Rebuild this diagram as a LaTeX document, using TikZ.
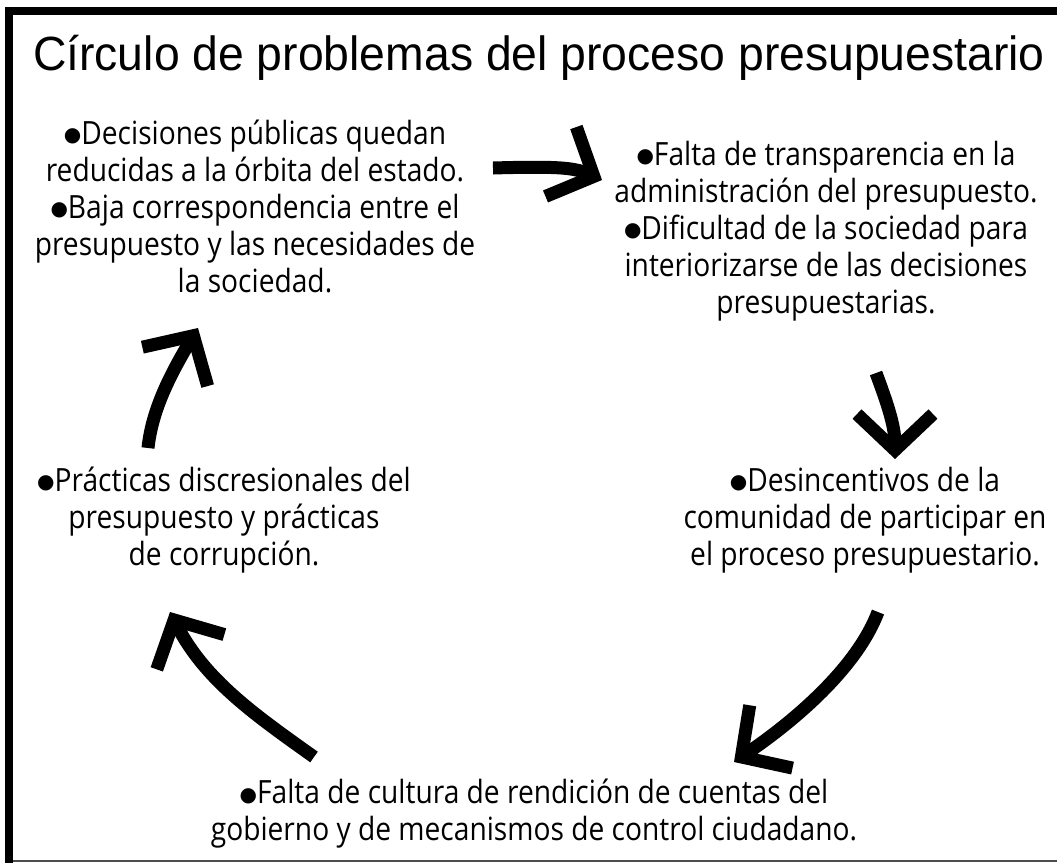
\documentclass[tikz,border=0pt]{standalone}
\usepackage{fontspec}
\setmainfont{Open Sans}[FakeStretch=0.88]
\newfontfamily\titlefont{Liberation Sans}[FakeStretch=0.965]
\newfontfamily\bulfont{DejaVu Sans}
\usetikzlibrary{arrows.meta}
\newcommand\mybul{\raisebox{2.5pt}{\bulfont\fontsize{20}{20}\selectfont ●}}
\begin{document}
\begin{tikzpicture}[x=1pt,y=-1pt,
  txt/.style={align=center,inner sep=0pt,font=\fontsize{32}{37}\selectfont},
  arr/.style={line width=13pt,-{Straight Barb[length=36pt,width=76pt]}}]
\useasboundingbox (0,0) rectangle (1057,863);
\fill (5,7) rectangle (1057,15);
\fill (5,7) rectangle (13,863);
\draw[gray!60!black,line width=1.5pt] (13,861) -- (1057,861);
\node[font=\titlefont\fontsize{48}{48}\selectfont,anchor=base,inner sep=0pt] (title) at (539,70) {Círculo de problemas del proceso presupuestario};
\node[txt] (tl) at (255,206) {\mybul Decisiones públicas quedan\\reducidas a la órbita del estado.\\\mybul Baja correspondencia entre el\\presupuesto y las necesidades de\\la sociedad.};
\node[txt] (tr) at (826,231) {\mybul Falta de transparencia en la\\administración del presupuesto.\\\mybul Dificultad de la sociedad para\\interiorizarse de las decisiones\\presupuestarias.};
\node[txt] (rm) at (865,520) {\mybul Desincentivos de la\\comunidad de participar en\\el proceso presupuestario.};
\node[txt] (lm) at (224,520) {\mybul Prácticas discresionales del\\presupuesto y prácticas\\de corrupción.};
\node[txt] (bt) at (534,814) {\mybul Falta de cultura de rendición de cuentas del\\gobierno y de mecanismos de control ciudadano.};
\coordinate (a1s) at (493,168);
\coordinate (a1e) at (602,180);
\coordinate (a2s) at (876,373);
\coordinate (a2e) at (895,459);
\coordinate (a3s) at (878,612);
\coordinate (a3e) at (734,762);
\coordinate (a4s) at (314,757);
\coordinate (a4e) at (170,612);
\coordinate (a5s) at (148,448);
\coordinate (a5e) at (198,328);
\draw[arr] (a1s) .. controls (560,166) and (575,168) .. (a1e);
\draw[arr] (a2s) .. controls (886,400) and (895,425) .. (a2e);
\draw[arr] (a3s) .. controls (858,665) and (800,717) .. (a3e);
\draw[arr] (a4s) .. controls (255,715) and (205,680) .. (a4e);
\draw[arr] (a5s) .. controls (152,410) and (170,375) .. (a5e);
\end{tikzpicture}
\end{document}
